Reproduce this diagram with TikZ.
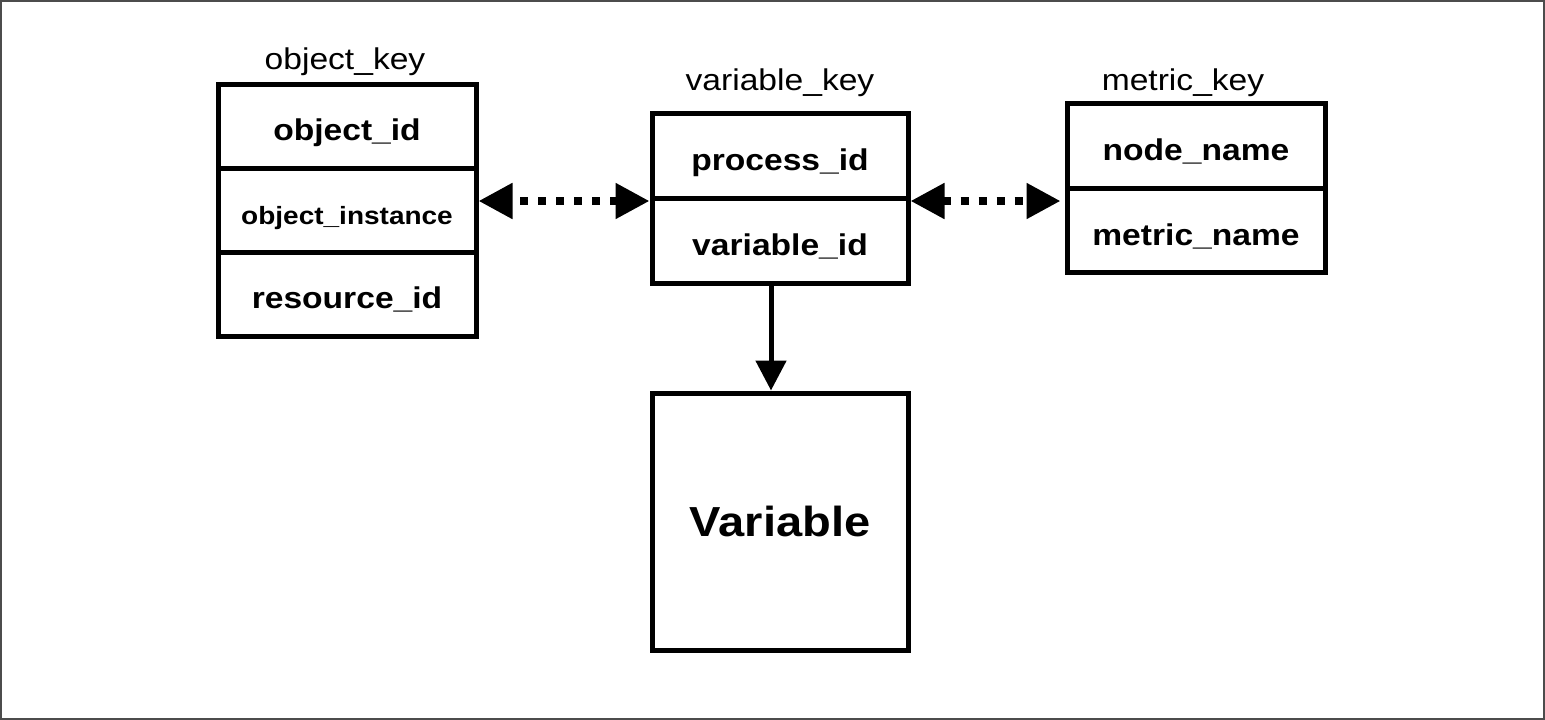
\documentclass[tikz,border=0pt]{standalone}
\usepackage{fontspec}
\setmainfont{Liberation Sans}[FakeStretch=1.12]
\usetikzlibrary{arrows.meta}
\tikzset{
  box/.style={draw, line width=5pt, minimum width=258pt, minimum height=84pt, inner sep=0pt,
    font=\fontsize{30}{30}\selectfont\bfseries},
  row/.style={box, text height=36pt, text depth=7pt},
  ttl/.style={inner sep=2pt, font=\fontsize{30}{30}\selectfont},
  link/.style={line width=8pt, dash pattern=on 8pt off 10pt,
    {Triangle[length=34pt,width=34pt]}-{Triangle[length=34pt,width=34pt]}},
  flow/.style={line width=5pt, -{Triangle[length=30pt,width=30pt]}},
}
\begin{document}
\begin{tikzpicture}[x=1pt,y=-1pt]
\useasboundingbox (0,0) rectangle (1545,720);
\draw[line width=1.5pt, black!70] (1,1) rectangle (1544,719);
% object_key
\node[row] (ok1) at (347,126) {object\_id};
\node[row] (ok2) at (347,210) {\fontsize{25}{25}\selectfont object\_instance};
\node[row] (ok3) at (347,294) {resource\_id};
\node[ttl, anchor=south] (okt) at (345,78) {object\_key};
% variable_key
\node[row, minimum width=256pt, minimum height=85pt] (vk1) at (780,156) {process\_id};
\node[row, minimum width=256pt, minimum height=85pt] (vk2) at (780,241) {variable\_id};
\node[ttl, anchor=south] (vkt) at (780,99) {variable\_key};
% metric_key
\node[row, minimum height=84.5pt] (mk1) at (1196,146) {node\_name};
\node[row, minimum height=84.5pt] (mk2) at (1196,230.5) {metric\_name};
\node[ttl, anchor=south] (mkt) at (1183,99) {metric\_key};
% Variable
\node[box, minimum width=256pt, minimum height=257pt, font=\fontsize{42}{42}\selectfont\bfseries] (var) at (780,521.5) {Variable};
% connectors
\draw[link] (vk1.south west) -- (ok2.east |- vk1.south west);
\draw[link] (vk1.south east) -- ([xshift=-4pt]mk2.west |- vk1.south east);
\draw[flow] ([xshift=-9pt]vk2.south) -- ([xshift=-9pt]var.north);
\end{tikzpicture}
\end{document}
